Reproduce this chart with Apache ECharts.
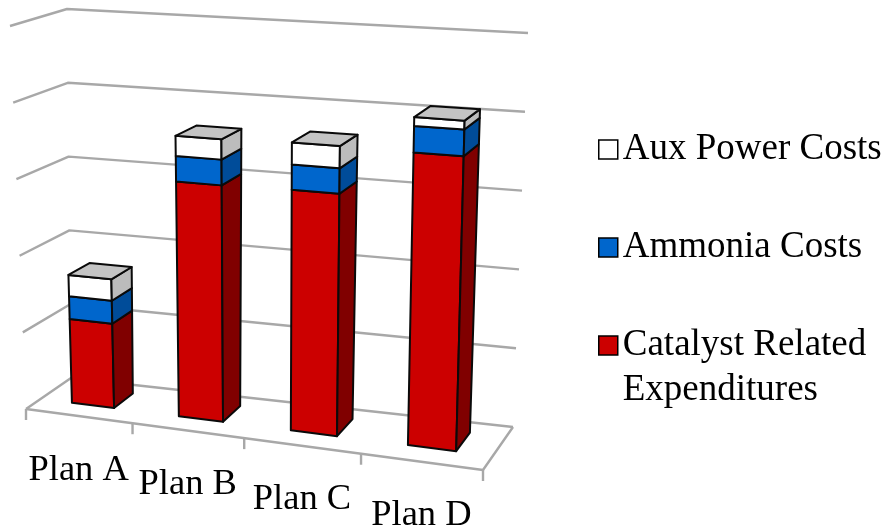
<!DOCTYPE html>
<html>
<head>
<meta charset="utf-8">
<style>html,body{margin:0;padding:0;background:#fff}#chart{width:890px;height:531px}</style>
<script src="https://cdn.jsdelivr.net/npm/echarts@6/dist/echarts.min.js"></script>
</head>
<body>
<div id="chart"></div>
<script>
// Stacked cost comparison per plan, in arbitrary cost units
const categories = ['Plan A', 'Plan B', 'Plan C', 'Plan D'];
const catalyst = [1.10, 3.03, 3.05, 3.64];
const ammonia = [0.30, 0.33, 0.32, 0.33];
const auxPower = [0.28, 0.26, 0.28, 0.11];
const valueTicks = [0, 1, 2, 3, 4, 5];

const SERIF = '"Liberation Serif", "Times New Roman", serif';
const GRID_COLOR = '#a8a8a8';
const EDGE_COLOR = '#0a0a0a';

// Eight corners of the perspective box the flat grid gets projected into.
const box = {
  floor: { fl: [26, 409], fr: [483, 470], bl: [71, 378], br: [513, 427] },
  roof: { fl: [10, 26], fr: [494, 56], bl: [67, 9], br: [528, 33] }
};
const WIDTH_FORESHORTEN = 0.09;
const BAR_SHARE = 0.4;
const BAR_DEPTH = [0.33, 0.77];
const TICK_LENGTH = 11;
const LABEL_DROP = 54;

function mix(a, b, t) {
  return [a[0] + (b[0] - a[0]) * t, a[1] + (b[1] - a[1]) * t];
}

// u: along the width, d: front to back, v: floor to roof, all in 0..1
function project(u, d, v) {
  const w = u + WIDTH_FORESHORTEN * u * (u - 1);
  const plane = (p) => mix(mix(p.fl, p.fr, w), mix(p.bl, p.br, w), d);
  return mix(plane(box.floor), plane(box.roof), v);
}

// Turns a category offset and a value into box coordinates via the axes.
function locate(params, api, cat, offset, value) {
  const cs = params.coordSys;
  const p = api.coord([cat, value]);
  const band = api.size([1, 0])[0];
  return {
    u: (p[0] + offset * band - cs.x) / cs.width,
    v: (cs.y + cs.height - p[1]) / cs.height
  };
}

function polygon(points, fill) {
  return {
    type: 'polygon',
    shape: { points },
    style: { fill, stroke: EDGE_COLOR, lineWidth: 2, lineJoin: 'round' }
  };
}

function line(points) {
  return {
    type: 'polyline',
    shape: { points },
    style: { fill: 'none', stroke: GRID_COLOR, lineWidth: 2.4, lineJoin: 'round' }
  };
}

function renderLayer(front, side, roofColor) {
  return function (params, api) {
    const cat = api.value(0);
    const low = locate(params, api, cat, -BAR_SHARE / 2, api.value(1));
    const high = locate(params, api, cat, BAR_SHARE / 2, api.value(2));
    const [df, db] = BAR_DEPTH;
    const children = [
      polygon([project(low.u, df, low.v), project(high.u, df, low.v),
               project(high.u, df, high.v), project(low.u, df, high.v)], front),
      polygon([project(high.u, df, low.v), project(high.u, db, low.v),
               project(high.u, db, high.v), project(high.u, df, high.v)], side)
    ];
    if (roofColor) {
      children.push(polygon([project(low.u, df, high.v), project(high.u, df, high.v),
                             project(high.u, db, high.v), project(low.u, db, high.v)], roofColor));
    }
    return { type: 'group', children };
  };
}

function renderWall(params, api) {
  const start = locate(params, api, 0, -0.5, api.value(1));
  const end = locate(params, api, categories.length - 1, 0.5, api.value(1));
  const children = [line([project(start.u, 0, start.v), project(start.u, 1, start.v), project(end.u, 1, end.v)])];
  if (api.value(1) === 0) {
    children.push(line([project(start.u, 0, 0), project(end.u, 0, 0), project(end.u, 1, 0)]));
  }
  return { type: 'group', children };
}

function renderCategory(params, api) {
  const cat = api.value(0);
  const tick = (offset) => {
    const at = locate(params, api, cat, offset, 0);
    const p = project(at.u, 0, 0);
    return line([p, [p[0], p[1] + TICK_LENGTH]]);
  };
  const mid = locate(params, api, cat, 0, 0);
  const anchor = project(mid.u, 0, 0);
  const children = [tick(-0.5), {
    type: 'text',
    style: {
      text: categories[cat], x: anchor[0], y: anchor[1] + LABEL_DROP,
      align: 'center', verticalAlign: 'middle',
      font: '36.5px ' + SERIF, fill: '#000'
    }
  }];
  if (cat === categories.length - 1) children.push(tick(0.5));
  return { type: 'group', children };
}

let running = categories.map(() => 0);
function stackLayer(values) {
  const rows = values.map((val, i) => [i, running[i], running[i] + val]);
  running = rows.map((r) => r[2]);
  return rows;
}
const catalystRows = stackLayer(catalyst);
const ammoniaRows = stackLayer(ammonia);
const auxRows = stackLayer(auxPower);

const legendBase = {
  orient: 'vertical', left: 598, padding: 0, itemWidth: 19, itemHeight: 19,
  icon: 'rect', selectedMode: false,
  itemStyle: { borderColor: '#000', borderWidth: 1.5 }
};
const legendText = { fontFamily: SERIF, fontSize: 37, color: '#000', lineHeight: 45 };

// The leading blank line keeps the icon level with the first visible line.
const wrapLegendName = (name) => '\nCatalyst Related\nExpenditures';

const chart = echarts.init(document.getElementById('chart'), null, { renderer: 'canvas' });
chart.setOption({
  animation: false,
  backgroundColor: '#fff',
  tooltip: { show: false },
  grid: { left: 20, top: 10, width: 500, height: 400 },
  xAxis: { type: 'category', data: categories, show: false },
  yAxis: { type: 'value', min: 0, max: 5, interval: 1, show: false },
  legend: [
    Object.assign({}, legendBase, { top: 127, data: ['Aux Power Costs'], textStyle: legendText }),
    Object.assign({}, legendBase, { top: 225, data: ['Ammonia Costs'], textStyle: legendText }),
    Object.assign({}, legendBase, { top: 278, data: ['Catalyst Related Expenditures'],
      formatter: wrapLegendName, textStyle: legendText })
  ],
  series: [
    { type: 'custom', name: 'Gridlines', silent: true, z: 1, renderItem: renderWall,
      data: valueTicks.map((t) => [0, t]), encode: { x: 0, y: 1 } },
    { type: 'custom', name: 'Categories', silent: true, z: 1, renderItem: renderCategory,
      data: categories.map((c, i) => [i, 0]), encode: { x: 0, y: 1 } },
    { type: 'custom', name: 'Catalyst Related Expenditures', z: 2, itemStyle: { color: '#cc0000' },
      renderItem: renderLayer('#cc0000', '#800000'), data: catalystRows, encode: { x: 0, y: [1, 2] } },
    { type: 'custom', name: 'Ammonia Costs', z: 3, itemStyle: { color: '#0066cc' },
      renderItem: renderLayer('#0066cc', '#004c99'), data: ammoniaRows, encode: { x: 0, y: [1, 2] } },
    { type: 'custom', name: 'Aux Power Costs', z: 4, itemStyle: { color: '#ffffff' },
      renderItem: renderLayer('#ffffff', '#bcbcbc', '#c4c4c4'), data: auxRows, encode: { x: 0, y: [1, 2] } }
  ]
});
</script>
</body>
</html>
